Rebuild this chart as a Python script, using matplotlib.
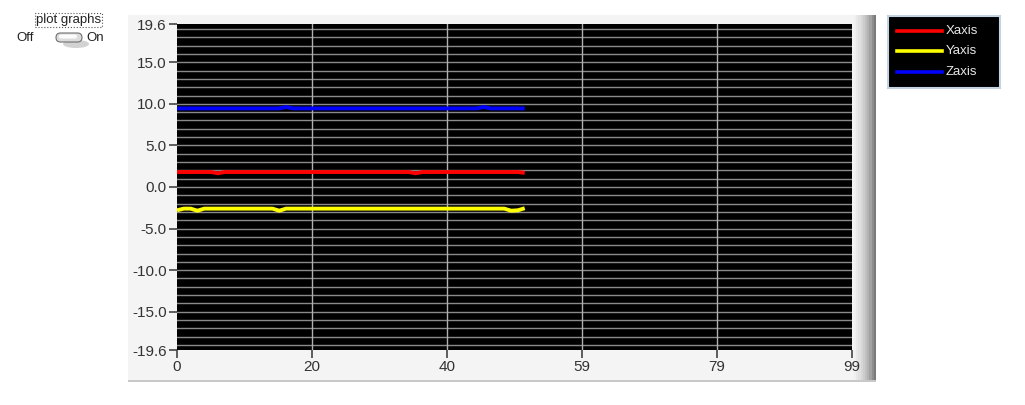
import matplotlib.pyplot as plt
from matplotlib.patches import Rectangle, FancyBboxPatch, Ellipse
import numpy as np

# samples 0..51
x_idx = list(range(52))
x_axis = [1.80, 1.80, 1.80, 1.80, 1.80, 1.80, 1.65, 1.80, 1.80, 1.80,
          1.80, 1.80, 1.80, 1.80, 1.80, 1.80, 1.80, 1.80, 1.80, 1.80,
          1.80, 1.80, 1.80, 1.80, 1.80, 1.80, 1.80, 1.80, 1.80, 1.80,
          1.80, 1.80, 1.80, 1.80, 1.80, 1.65, 1.80, 1.80, 1.80, 1.80,
          1.80, 1.80, 1.80, 1.80, 1.80, 1.80, 1.80, 1.80, 1.80, 1.80,
          1.80, 1.70]
y_axis = [-2.80, -2.60, -2.60, -2.85, -2.60, -2.60, -2.60, -2.60, -2.60, -2.60,
          -2.60, -2.60, -2.60, -2.60, -2.60, -2.85, -2.60, -2.60, -2.60, -2.60,
          -2.60, -2.60, -2.60, -2.60, -2.60, -2.60, -2.60, -2.60, -2.60, -2.60,
          -2.60, -2.60, -2.60, -2.60, -2.60, -2.60, -2.60, -2.60, -2.60, -2.60,
          -2.60, -2.60, -2.60, -2.60, -2.60, -2.60, -2.60, -2.60, -2.60, -2.85,
          -2.80, -2.55]
z_axis = [9.45, 9.45, 9.45, 9.45, 9.45, 9.45, 9.45, 9.45, 9.45, 9.45,
          9.45, 9.45, 9.45, 9.45, 9.45, 9.45, 9.62, 9.45, 9.45, 9.45,
          9.45, 9.45, 9.45, 9.45, 9.45, 9.45, 9.45, 9.45, 9.45, 9.45,
          9.45, 9.45, 9.45, 9.45, 9.45, 9.45, 9.45, 9.45, 9.45, 9.45,
          9.45, 9.45, 9.45, 9.45, 9.45, 9.62, 9.45, 9.45, 9.45, 9.45,
          9.45, 9.45]

series_names = ['Xaxis', 'Yaxis', 'Zaxis']
series_colors = ['#ff0000', '#ffff00', '#0000ff']

y_ticks = [19.6, 15.0, 10.0, 5.0, 0.0, -5.0, -10.0, -15.0, -19.6]
y_labels = ['19.6', '15.0', '10.0', '5.0', '0.0', '-5.0', '-10.0', '-15.0', '-19.6']
x_ticks = [0, 19.8, 39.6, 59.4, 79.2, 99]
x_labels = ['0', '20', '40', '59', '79', '99']

FONT = ['Liberation Sans', 'DejaVu Sans']
TXT = '#333333'
W, H = 1025, 405

fig = plt.figure(figsize=(W / 100, H / 100), dpi=100)
fig.patch.set_facecolor('white')

def fx(px):
    return px / W

def fy(py):
    return 1 - py / H

# chart panel + right shadow, on a background axes
bg = fig.add_axes([0, 0, 1, 1], zorder=-10)
bg.set_xlim(0, W)
bg.set_ylim(H, 0)
bg.axis('off')
bg.add_patch(Rectangle((128, 15), 726, 365, facecolor='#f4f4f4', edgecolor='none'))
for i, c in enumerate(['#f0f0f0', '#e8e8e8', '#e0e0e0', '#d6d6d6', '#cccccc', '#c0c0c0',
                       '#b2b2b2', '#a2a2a2', '#8e8e8e', '#7a7a7a']):
    bg.add_patch(Rectangle((854 + i * 2.2, 15), 2.3, 365, facecolor=c, edgecolor='none'))
bg.add_patch(Rectangle((128, 380), 748, 2, facecolor='#c8c8c8', edgecolor='none'))

# toggle control
bg.text(36, 20, 'plot graphs', fontsize=9.5, color='#222222', va='center', family=FONT,
        bbox=dict(boxstyle='square,pad=0.08', facecolor='none', edgecolor='#555555', linestyle=':', lw=0.8))
bg.text(16, 38, 'Off', fontsize=9.5, color='#222222', va='center', family=FONT)
bg.text(86, 38, 'On', fontsize=9.5, color='#222222', va='center', family=FONT)
bg.add_patch(Ellipse((76, 44), 26, 8, facecolor='#c0c0c0', edgecolor='none', alpha=0.7))
bg.add_patch(FancyBboxPatch((56, 33), 26, 9, boxstyle='round,pad=0,rounding_size=4.5',
                            facecolor='#dcdcdc', edgecolor='#707070', lw=0.8))
bg.add_patch(FancyBboxPatch((59, 34.5), 18, 4, boxstyle='round,pad=0,rounding_size=2',
                            facecolor='#fcfcfc', edgecolor='none'))

ax = fig.add_axes([fx(177), fy(350), fx(852 - 177), (350 - 24) / H], zorder=5)
ax.set_facecolor('black')
ax.set_xlim(0, 99)
ax.set_ylim(-19.6, 19.6)

# horizontal grid every unit, vertical grid at major x ticks
for v in np.arange(-19, 20, 1):
    ax.axhline(v, color='#8a8a8a', lw=1.0, zorder=1)
for v in x_ticks[1:-1]:
    ax.axvline(v, color='#b0b0b0', lw=1.0, zorder=1)

for vals, col in zip([x_axis, y_axis, z_axis], series_colors):
    ax.plot(x_idx, vals, color=col, lw=2.8, zorder=3, solid_capstyle='butt')

ax.set_yticks(y_ticks)
ax.set_yticklabels(y_labels)
ax.set_xticks(x_ticks)
ax.set_xticklabels(x_labels)
ax.tick_params(axis='both', colors='#444444', labelcolor=TXT, labelsize=11, length=6, width=1.2, pad=1.5)
for lab in ax.get_xticklabels() + ax.get_yticklabels():
    lab.set_family(FONT)
for s in ax.spines.values():
    s.set_visible(False)

# legend box
lax = fig.add_axes([fx(888), fy(88), fx(112), 72 / H], zorder=5)
lax.set_facecolor('black')
lax.set_xticks([])
lax.set_yticks([])
for s in lax.spines.values():
    s.set_color('#c5d3e0')
    s.set_linewidth(1.5)
lax.set_xlim(888, 1000)
lax.set_ylim(88, 16)
for i, (name, col) in enumerate(zip(series_names, series_colors)):
    yy = 31 + i * 20.5
    lax.plot([897, 942], [yy, yy], color=col, lw=2.6)
    lax.text(946, yy, name, color='#e8e8e8', fontsize=9.5, va='center', family=FONT)

fig.savefig('out.png', dpi=100)
plt.close(fig)
